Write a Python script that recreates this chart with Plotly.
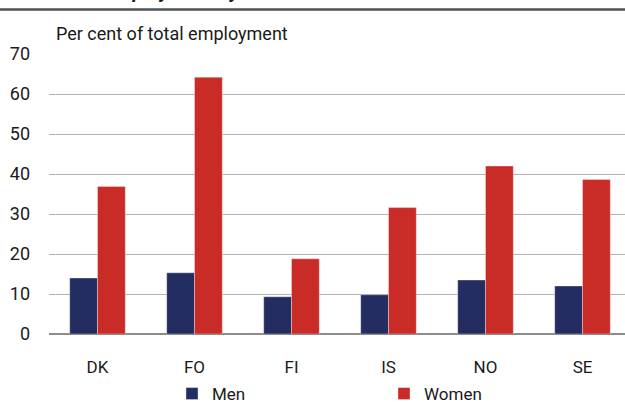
import plotly.graph_objects as go

categories = ["DK", "FO", "FI", "IS", "NO", "SE"]
men = [14.0, 15.3, 9.3, 9.8, 13.5, 12.0]
women = [36.9, 64.2, 18.8, 31.6, 42.0, 38.6]
y_ticks = [0, 10, 20, 30, 40, 50, 60, 70]

FONT = "Roboto"
W, H = 625, 403
L, R, T, B = 49, 0, 54, 69
ph = H - T - B
pw = W - L - R
CAT_PX = 97.0  # pixel width of one category slot

fig = go.Figure()
fig.add_trace(go.Bar(name="Men", x=categories, y=men,
                     marker=dict(color="#242d62", line=dict(color="rgba(255,255,255,0.35)", width=1))))
fig.add_trace(go.Bar(name="Women", x=categories, y=women,
                     marker=dict(color="#c92b27", line=dict(color="rgba(255,255,255,0.35)", width=1))))

fig.update_layout(
    width=W, height=H,
    margin=dict(l=L, r=R, t=T, b=B, pad=0, autoexpand=False),
    paper_bgcolor="white", plot_bgcolor="white",
    barmode="group", bargap=0.427, bargroupgap=0,
    font=dict(family=FONT, size=18, color="#1a1a1a"),
    showlegend=True,
    legend=dict(orientation="h", xref="container", x=172 / W, xanchor="left",
                yref="container", y=(H - 394) / H, yanchor="middle",
                entrywidth=167, entrywidthmode="pixels", bgcolor="rgba(0,0,0,0)",
                font=dict(family=FONT, size=17, color="#1a1a1a"),
                itemclick=False, traceorder="normal"),
    xaxis=dict(showgrid=False, showline=False, ticks="", tickfont=dict(size=17),
               range=[-0.5, -0.5 + pw / CAT_PX],
               ticklabelstandoff=21, automargin=False),
    yaxis=dict(range=[0, 70], tickvals=y_ticks, showgrid=True,
               gridcolor="#b3b3b3", gridwidth=1.2, zeroline=True,
               zerolinecolor="#8c8c8c", zerolinewidth=2, showline=False,
               ticks="", tickfont=dict(size=18), ticklabelstandoff=18, automargin=False),
)

# top separator line
fig.add_shape(type="line", xref="paper", yref="paper",
              x0=-L / pw, x1=1, y0=(334 - 9.5) / ph, y1=(334 - 9.5) / ph,
              line=dict(color="#4d5257", width=2.5))

# clipped chart title (only its bottom edge is visible)
fig.add_annotation(text="<b><i>Part-time employment by sex</i></b>",
                   xref="paper", yref="paper", x=(15 - L) / pw,
                   xanchor="left", y=(334 - 5) / ph, yanchor="bottom",
                   showarrow=False, font=dict(family=FONT, size=20, color="#1a1a1a"))

# unit label
fig.add_annotation(text="Per cent of total employment", xref="paper", yref="paper",
                   x=(54 - L) / pw, xanchor="left",
                   y=(334 - 33) / ph, yanchor="middle", showarrow=False,
                   font=dict(family=FONT, size=18, color="#1a1a1a"))

fig.write_html("out.html", config={"displayModeBar": False},
               post_script="document.body.style.margin='0';document.body.style.padding='0';")
